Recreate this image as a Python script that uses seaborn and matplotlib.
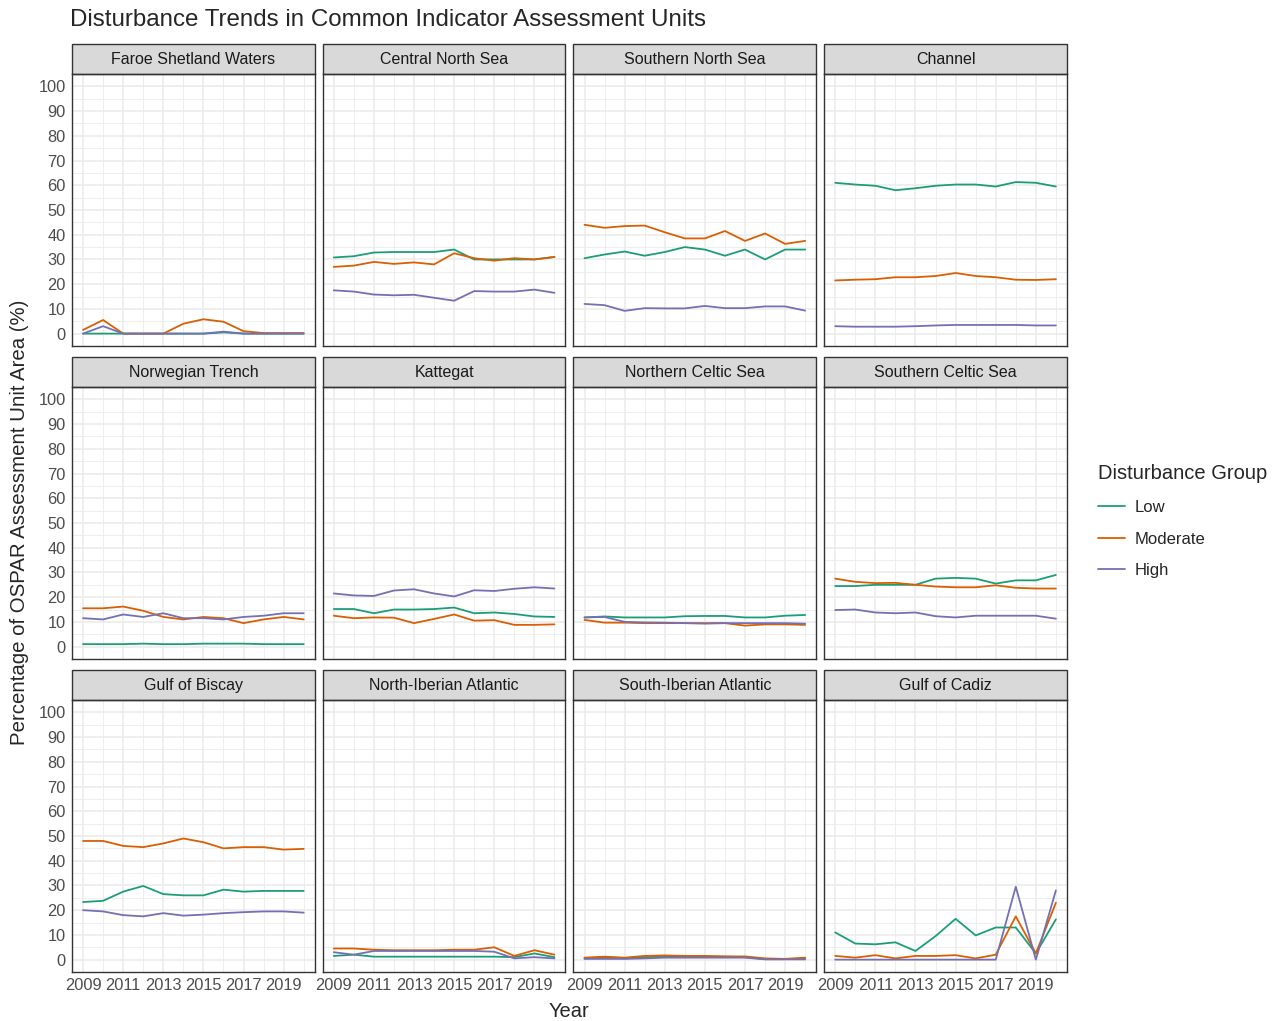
import numpy as np
import pandas as pd
import seaborn as sns
import matplotlib.pyplot as plt
from matplotlib.patches import Rectangle
from matplotlib.lines import Line2D

sns.set_style("white")
plt.rcParams["font.family"] = ["Liberation Sans", "DejaVu Sans"]

years = list(range(2009, 2021))

regions = ["Faroe Shetland Waters", "Central North Sea", "Southern North Sea", "Channel",
           "Norwegian Trench", "Kattegat", "Northern Celtic Sea", "Southern Celtic Sea",
           "Gulf of Biscay", "North-Iberian Atlantic", "South-Iberian Atlantic", "Gulf of Cadiz"]

groups = ["Low", "Moderate", "High"]
colours = ["#1B9E77", "#D95F02", "#7570B3"]

# percentage of area per year, 2009..2020
low = {
    "Faroe Shetland Waters": [0, 0, 0, 0, 0, 0, 0, 0.5, 0, 0, 0, 0],
    "Central North Sea": [30.8, 31.3, 32.8, 33, 33, 33, 34, 30, 30, 30, 30, 31],
    "Southern North Sea": [30.5, 32, 33.2, 31.5, 33, 35, 34, 31.5, 34, 30, 34, 34],
    "Channel": [61, 60.3, 59.8, 58, 58.8, 59.8, 60.3, 60.3, 59.5, 61.3, 61, 59.5],
    "Norwegian Trench": [1, 1, 1, 1.2, 1, 1, 1.2, 1.2, 1.2, 1, 1, 1],
    "Kattegat": [15.2, 15.2, 13.5, 15, 15, 15.2, 15.8, 13.5, 13.8, 13.2, 12.2, 12],
    "Northern Celtic Sea": [11.8, 12.2, 11.8, 11.8, 11.8, 12.3, 12.4, 12.4, 11.8, 11.8, 12.5, 12.8],
    "Southern Celtic Sea": [24.5, 24.5, 25, 25, 25, 27.5, 27.8, 27.5, 25.5, 26.8, 26.8, 29],
    "Gulf of Biscay": [23.3, 23.8, 27.5, 29.8, 26.5, 26, 26, 28.3, 27.5, 27.8, 27.8, 27.8],
    "North-Iberian Atlantic": [1.5, 2, 1.2, 1.2, 1.2, 1.2, 1.2, 1.2, 1.2, 1, 2.5, 1],
    "South-Iberian Atlantic": [0.5, 1, 0.5, 1, 1.2, 1.2, 1.2, 1.2, 1, 0.2, 0.2, 0.3],
    "Gulf of Cadiz": [11, 6.5, 6.2, 7, 3.5, 9.5, 16.5, 9.8, 13, 13, 2.5, 16.3],
}
moderate = {
    "Faroe Shetland Waters": [1.5, 5.5, 0, 0, 0, 4, 5.8, 4.8, 1, 0.2, 0.2, 0.2],
    "Central North Sea": [27, 27.5, 29, 28.2, 28.8, 28, 32.5, 30.5, 29.5, 30.5, 30, 31],
    "Southern North Sea": [44, 42.8, 43.5, 43.7, 41, 38.5, 38.5, 41.5, 37.5, 40.5, 36.3, 37.5],
    "Channel": [21.5, 21.8, 22, 22.8, 22.8, 23.3, 24.5, 23.3, 22.8, 21.8, 21.7, 22],
    "Norwegian Trench": [15.5, 15.5, 16.2, 14.5, 12, 11, 12, 11.5, 9.5, 11, 12, 11],
    "Kattegat": [12.5, 11.5, 11.8, 11.7, 9.5, 11.2, 13, 10.5, 10.7, 8.8, 8.8, 9],
    "Northern Celtic Sea": [10.8, 9.7, 9.7, 9.5, 9.5, 9.5, 9.5, 9.5, 8.5, 9, 9, 8.8],
    "Southern Celtic Sea": [27.5, 26.2, 25.7, 25.8, 25, 24.3, 24, 24, 24.8, 23.8, 23.5, 23.5],
    "Gulf of Biscay": [48, 48, 46, 45.5, 47, 49, 47.5, 45, 45.5, 45.5, 44.5, 44.8],
    "North-Iberian Atlantic": [4.5, 4.5, 4, 3.8, 3.8, 3.8, 4, 4, 5, 1.5, 3.8, 2],
    "South-Iberian Atlantic": [0.8, 1.2, 0.8, 1.5, 1.7, 1.5, 1.5, 1.3, 1.3, 0.5, 0.3, 0.8],
    "Gulf of Cadiz": [1.5, 0.8, 1.8, 0.5, 1.5, 1.5, 1.8, 0.5, 2, 17.5, 2.5, 23],
}
high = {
    "Faroe Shetland Waters": [0, 3, 0, 0, 0, 0, 0, 0.8, 0, 0, 0, 0],
    "Central North Sea": [17.5, 17, 15.8, 15.5, 15.7, 14.5, 13.3, 17.2, 17, 17, 17.8, 16.5],
    "Southern North Sea": [12, 11.5, 9.2, 10.3, 10.2, 10.2, 11.2, 10.3, 10.3, 11, 11, 9.3],
    "Channel": [3, 2.8, 2.8, 2.8, 3, 3.3, 3.5, 3.5, 3.5, 3.5, 3.3, 3.3],
    "Norwegian Trench": [11.5, 11, 13, 12, 13.5, 11.5, 11.5, 11, 12, 12.5, 13.5, 13.5],
    "Kattegat": [21.5, 20.7, 20.5, 22.7, 23.2, 21.5, 20.3, 22.8, 22.5, 23.4, 24, 23.5],
    "Northern Celtic Sea": [11.8, 12, 10, 9.8, 9.7, 9.5, 9.3, 9.5, 9.5, 9.5, 9.5, 9.3],
    "Southern Celtic Sea": [14.8, 15, 13.8, 13.5, 13.8, 12.3, 11.8, 12.5, 12.5, 12.5, 12.5, 11.3],
    "Gulf of Biscay": [20, 19.5, 18, 17.5, 18.8, 17.8, 18.2, 18.8, 19.2, 19.5, 19.5, 19],
    "North-Iberian Atlantic": [3, 2, 3.5, 3.5, 3.5, 3.5, 3.5, 3.5, 3.2, 0.5, 1, 0.5],
    "South-Iberian Atlantic": [0.3, 0.3, 0.3, 0.5, 0.8, 0.8, 0.8, 0.8, 0.8, 0.1, 0.1, 0.1],
    "Gulf of Cadiz": [0, 0, 0, 0, 0, 0, 0, 0, 0, 29.5, 0, 28],
}

rows = []
for grp, vals in zip(groups, [low, moderate, high]):
    for reg in regions:
        for yr, v in zip(years, vals[reg]):
            rows.append((reg, grp, yr, v))
df = pd.DataFrame(rows, columns=["Region", "Group", "Year", "Pct"])

g = sns.relplot(data=df, x="Year", y="Pct", hue="Group", hue_order=groups,
                palette=colours, col="Region", col_order=regions, col_wrap=4,
                kind="line", legend=False, linewidth=1.3, height=3, aspect=1)

fig = g.figure
fig.set_size_inches(12.77, 10.21)
fig.subplots_adjust(left=0.0564, right=0.8355, top=0.9275, bottom=0.048,
                    wspace=0.033, hspace=0.151)

for ax, reg in zip(g.axes.flat, regions):
    ax.set_facecolor("white")
    ax.set_xlim(2009 - 0.55, 2020 + 0.55)
    ax.set_ylim(-5, 105)
    ax.set_xticks(range(2009, 2020, 2))
    ax.set_xticks(range(2010, 2021, 2), minor=True)
    ax.set_yticks(range(0, 101, 10))
    ax.set_yticks(range(5, 100, 10), minor=True)
    ax.grid(True, which="major", color="#EBEBEB", lw=1.1)
    ax.grid(True, which="minor", color="#EBEBEB", lw=0.6)
    ax.set_axisbelow(True)
    for s in ax.spines.values():
        s.set_visible(True)
        s.set_color("#333333")
        s.set_linewidth(1.0)
    ax.tick_params(which="major", length=2.5, width=0.8, color="#333333",
                   labelcolor="#4D4D4D", labelsize=11.8, pad=2)
    ax.tick_params(which="minor", length=0)
    ax.set_title("")
    ax.set_xlabel("")
    ax.set_ylabel("")
    strip = Rectangle((0, 1), 1, 0.11, transform=ax.transAxes, clip_on=False,
                      facecolor="#D9D9D9", edgecolor="#333333", lw=1.0)
    ax.add_patch(strip)
    ax.text(0.5, 1.055, reg, transform=ax.transAxes, ha="center", va="center",
            fontsize=11.5, color="#1A1A1A")

fig.text(0.055, 0.980, "Disturbance Trends in Common Indicator Assessment Units",
         fontsize=17.4, ha="left", va="center")
fig.text(0.4456, 0.009, "Year", fontsize=14.5, ha="center", va="center")
fig.text(0.015, 0.488, "Percentage of OSPAR Assessment Unit Area (%)", fontsize=14.7,
         rotation=90, ha="center", va="center")

handles = [Line2D([], [], color=c, lw=1.3) for c in colours]
leg = fig.legend(handles, groups, title="Disturbance Group", loc="upper left",
                 bbox_to_anchor=(0.848, 0.560), frameon=False, fontsize=12,
                 title_fontsize=14.5, handlelength=1.6, handletextpad=0.6,
                 labelspacing=1.0)
leg._legend_box.align = "left"

fig.savefig("out.png", dpi=100)
